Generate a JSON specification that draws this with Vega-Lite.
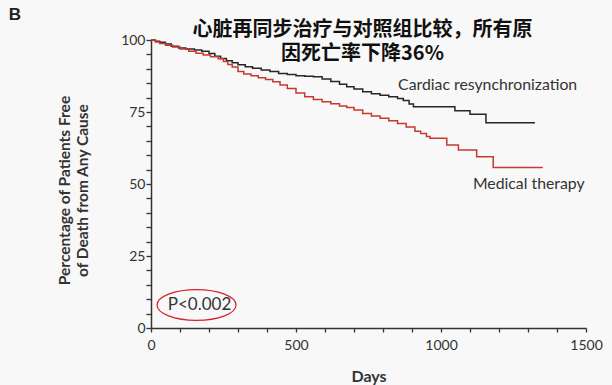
{
  "$schema": "https://vega.github.io/schema/vega-lite/v6.json",
  "autosize": {"type": "none"},
  "width": 435,
  "height": 288,
  "padding": {"left": 151, "top": 40, "right": 26, "bottom": 57},
  "background": "#f8f8f8",
  "config": {
    "view": {"stroke": null},
    "font": "Lato",
    "axis": {"grid": false, "domainColor": "#333333", "tickColor": "#333333", "labelColor": "#333333", "titleColor": "#333333", "domainWidth": 1.5, "tickWidth": 1.3, "labelFlush": false}
  },
  "title": {
    "text": ["心脏再同步治疗与对照组比较，所有原", "因死亡率下降36%"],
    "font": "Noto Sans CJK SC",
    "fontSize": 20,
    "fontWeight": "bold",
    "lineHeight": 24,
    "color": "#111111",
    "anchor": "middle",
    "frame": "group",
    "offset": -18,
    "dx": -6,
    "dy": 40
  },
  "datasets": {
    "curves": [
      {"group": "Cardiac resynchronization", "day": 0, "pct": 100},
      {"group": "Cardiac resynchronization", "day": 15, "pct": 99.6},
      {"group": "Cardiac resynchronization", "day": 30, "pct": 99.2},
      {"group": "Cardiac resynchronization", "day": 50, "pct": 98.6},
      {"group": "Cardiac resynchronization", "day": 70, "pct": 97.8},
      {"group": "Cardiac resynchronization", "day": 95, "pct": 97.2},
      {"group": "Cardiac resynchronization", "day": 120, "pct": 96.9},
      {"group": "Cardiac resynchronization", "day": 150, "pct": 96.5},
      {"group": "Cardiac resynchronization", "day": 175, "pct": 96.1},
      {"group": "Cardiac resynchronization", "day": 200, "pct": 95.3},
      {"group": "Cardiac resynchronization", "day": 220, "pct": 94.4},
      {"group": "Cardiac resynchronization", "day": 240, "pct": 93.6},
      {"group": "Cardiac resynchronization", "day": 260, "pct": 92.8},
      {"group": "Cardiac resynchronization", "day": 280, "pct": 92.1},
      {"group": "Cardiac resynchronization", "day": 300, "pct": 91.4},
      {"group": "Cardiac resynchronization", "day": 325, "pct": 90.7},
      {"group": "Cardiac resynchronization", "day": 350, "pct": 90.2},
      {"group": "Cardiac resynchronization", "day": 380, "pct": 89.6},
      {"group": "Cardiac resynchronization", "day": 410, "pct": 89.1},
      {"group": "Cardiac resynchronization", "day": 440, "pct": 88.4},
      {"group": "Cardiac resynchronization", "day": 470, "pct": 88.0},
      {"group": "Cardiac resynchronization", "day": 500, "pct": 87.6},
      {"group": "Cardiac resynchronization", "day": 530, "pct": 87.4},
      {"group": "Cardiac resynchronization", "day": 560, "pct": 87.2},
      {"group": "Cardiac resynchronization", "day": 590, "pct": 86.5},
      {"group": "Cardiac resynchronization", "day": 620, "pct": 85.6},
      {"group": "Cardiac resynchronization", "day": 650, "pct": 84.6},
      {"group": "Cardiac resynchronization", "day": 675, "pct": 83.8},
      {"group": "Cardiac resynchronization", "day": 700, "pct": 83.0},
      {"group": "Cardiac resynchronization", "day": 730, "pct": 82.0},
      {"group": "Cardiac resynchronization", "day": 760, "pct": 81.3},
      {"group": "Cardiac resynchronization", "day": 790, "pct": 80.8},
      {"group": "Cardiac resynchronization", "day": 820, "pct": 80.3},
      {"group": "Cardiac resynchronization", "day": 850, "pct": 79.7},
      {"group": "Cardiac resynchronization", "day": 870, "pct": 79.0},
      {"group": "Cardiac resynchronization", "day": 890, "pct": 77.8},
      {"group": "Cardiac resynchronization", "day": 905, "pct": 76.8},
      {"group": "Cardiac resynchronization", "day": 1048, "pct": 75.4},
      {"group": "Cardiac resynchronization", "day": 1100, "pct": 74.2},
      {"group": "Cardiac resynchronization", "day": 1155, "pct": 71.3},
      {"group": "Cardiac resynchronization", "day": 1324, "pct": 71.3},
      {"group": "Medical therapy", "day": 0, "pct": 100},
      {"group": "Medical therapy", "day": 15, "pct": 99.3},
      {"group": "Medical therapy", "day": 30, "pct": 98.8},
      {"group": "Medical therapy", "day": 50, "pct": 98.2},
      {"group": "Medical therapy", "day": 75, "pct": 97.6},
      {"group": "Medical therapy", "day": 100, "pct": 96.9},
      {"group": "Medical therapy", "day": 130, "pct": 96.1},
      {"group": "Medical therapy", "day": 155, "pct": 95.4},
      {"group": "Medical therapy", "day": 180, "pct": 94.8},
      {"group": "Medical therapy", "day": 205, "pct": 94.2},
      {"group": "Medical therapy", "day": 232, "pct": 93.5},
      {"group": "Medical therapy", "day": 250, "pct": 92.5},
      {"group": "Medical therapy", "day": 265, "pct": 91.5},
      {"group": "Medical therapy", "day": 280, "pct": 90.6},
      {"group": "Medical therapy", "day": 300, "pct": 89.1},
      {"group": "Medical therapy", "day": 320, "pct": 88.2},
      {"group": "Medical therapy", "day": 345, "pct": 87.6},
      {"group": "Medical therapy", "day": 370, "pct": 86.9},
      {"group": "Medical therapy", "day": 395, "pct": 86.3},
      {"group": "Medical therapy", "day": 420, "pct": 85.5},
      {"group": "Medical therapy", "day": 445, "pct": 84.4},
      {"group": "Medical therapy", "day": 470, "pct": 83.2},
      {"group": "Medical therapy", "day": 500, "pct": 81.6},
      {"group": "Medical therapy", "day": 530, "pct": 80.3},
      {"group": "Medical therapy", "day": 560, "pct": 79.3},
      {"group": "Medical therapy", "day": 590, "pct": 78.6},
      {"group": "Medical therapy", "day": 620, "pct": 77.9},
      {"group": "Medical therapy", "day": 650, "pct": 77.1},
      {"group": "Medical therapy", "day": 675, "pct": 76.6},
      {"group": "Medical therapy", "day": 700, "pct": 75.7},
      {"group": "Medical therapy", "day": 730, "pct": 74.5},
      {"group": "Medical therapy", "day": 760, "pct": 73.6},
      {"group": "Medical therapy", "day": 790, "pct": 72.8},
      {"group": "Medical therapy", "day": 820, "pct": 72.0},
      {"group": "Medical therapy", "day": 850, "pct": 71.0},
      {"group": "Medical therapy", "day": 880, "pct": 69.8},
      {"group": "Medical therapy", "day": 910, "pct": 68.3},
      {"group": "Medical therapy", "day": 930, "pct": 67.5},
      {"group": "Medical therapy", "day": 950, "pct": 66.5},
      {"group": "Medical therapy", "day": 962, "pct": 65.9},
      {"group": "Medical therapy", "day": 1020, "pct": 63.5},
      {"group": "Medical therapy", "day": 1060, "pct": 61.8},
      {"group": "Medical therapy", "day": 1123, "pct": 59.5},
      {"group": "Medical therapy", "day": 1180, "pct": 55.7},
      {"group": "Medical therapy", "day": 1351, "pct": 55.7}
    ],
    "labels": [
      {"day": 852, "pct": 84.4, "text": "Cardiac resynchronization"},
      {"day": 1110, "pct": 50.0, "text": "Medical therapy"}
    ],
    "pval": [
      {"day": 157, "pct": 8.0, "text": "P<0.002"}
    ],
    "panel": [
      {"day": -469, "pct": 108.7, "text": "B"}
    ]
  },
  "encoding": {
    "x": {
      "field": "day", "type": "quantitative",
      "scale": {"domain": [0, 1500], "nice": false},
      "axis": {
        "title": "Days", "titleFontSize": 16, "titleFontWeight": "bold", "titlePadding": 16,
        "values": [0, 100, 200, 300, 400, 500, 600, 700, 800, 900, 1000, 1100, 1200, 1300, 1400, 1500],
        "labelExpr": "datum.value % 500 === 0 ? datum.label : ''",
        "labelOverlap": false,
        "format": "d",
        "labelFontSize": 14, "tickSize": 4, "labelPadding": 6
      }
    },
    "y": {
      "field": "pct", "type": "quantitative",
      "scale": {"domain": [0, 100], "nice": false},
      "axis": {
        "title": ["Percentage of Patients Free", "of Death from Any Cause"],
        "titleFontSize": 15.5, "titleFontWeight": "bold", "titlePadding": 30, "titleLineHeight": 18,
        "titleY": 150,
        "values": [0, 5, 10, 15, 20, 25, 30, 35, 40, 45, 50, 55, 60, 65, 70, 75, 80, 85, 90, 95, 100],
        "labelExpr": "datum.value % 25 === 0 ? datum.label : ''",
        "labelOverlap": false,
        "labelFontSize": 14, "tickSize": 5, "labelPadding": 1
      }
    }
  },
  "layer": [
    {
      "data": {"name": "curves"},
      "mark": {"type": "line", "interpolate": "step-after", "strokeWidth": 1.5},
      "encoding": {
        "color": {
          "field": "group", "type": "nominal",
          "scale": {"domain": ["Cardiac resynchronization", "Medical therapy"], "range": ["#262626", "#c43a30"]},
          "legend": null
        }
      }
    },
    {
      "data": {"name": "labels"},
      "mark": {"type": "text", "align": "left", "baseline": "middle", "fontSize": 15.8, "color": "#333333"},
      "encoding": {
        "text": {"field": "text"}
      }
    },
    {
      "data": {"name": "pval"},
      "mark": {"type": "point", "shape": "M -1 0 A 1 0.39 0 1 0 1 0 A 1 0.39 0 1 0 -1 0 Z", "size": 6241, "filled": false, "stroke": "#d9202a", "strokeWidth": 1.2, "opacity": 1}
    },
    {
      "data": {"name": "pval"},
      "mark": {"type": "text", "align": "center", "baseline": "middle", "fontSize": 17, "color": "#333333", "dx": 3},
      "encoding": {
        "text": {"field": "text"}
      }
    },
    {
      "data": {"name": "panel"},
      "mark": {"type": "text", "align": "center", "baseline": "middle", "fontSize": 17, "fontWeight": "bold", "font": "Liberation Sans", "color": "#222222"},
      "encoding": {
        "text": {"field": "text"}
      }
    }
  ]
}
